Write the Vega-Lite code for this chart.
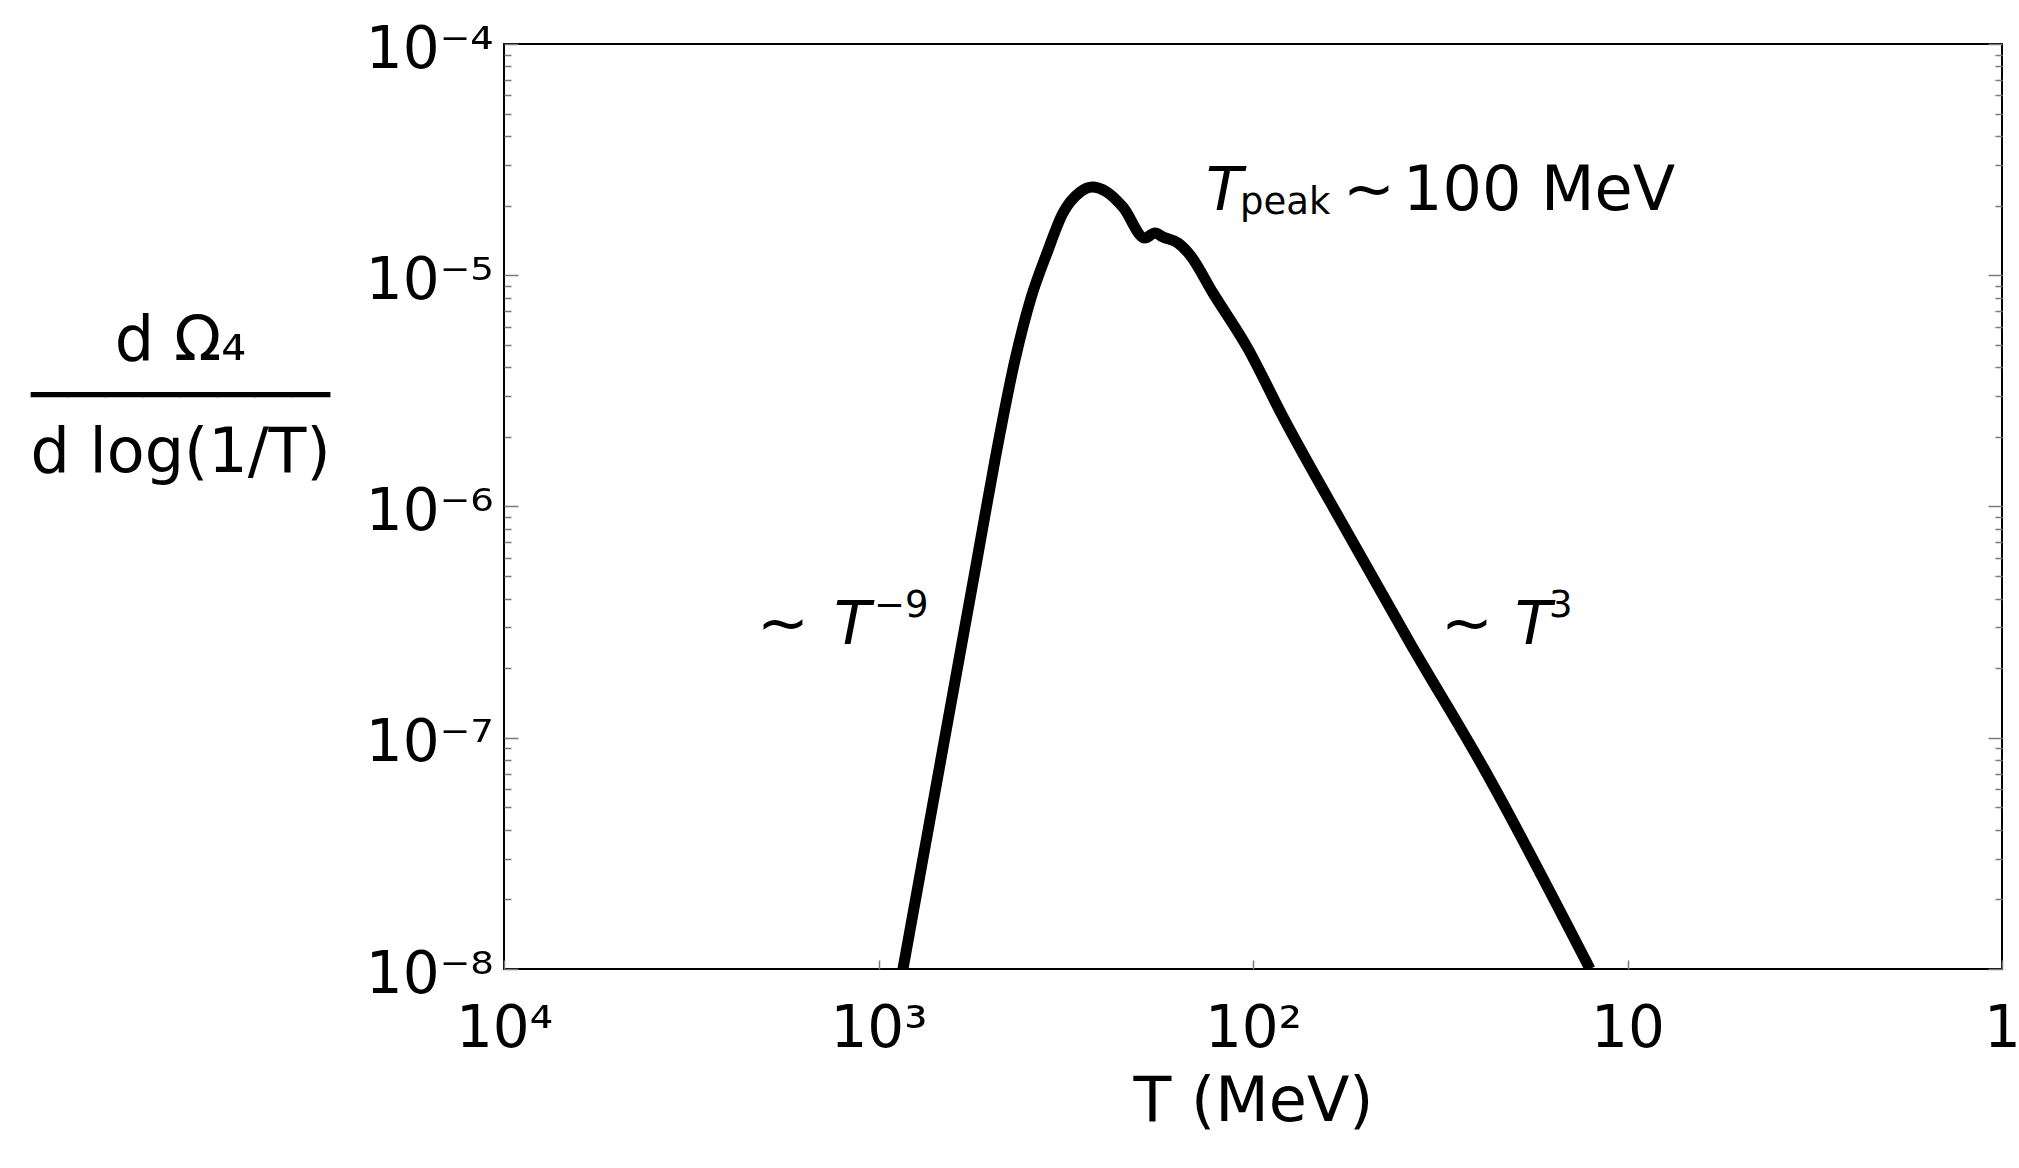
{
  "$schema": "https://vega.github.io/schema/vega-lite/v6.json",
  "width": 1498,
  "height": 925,
  "autosize": {"type": "none"},
  "padding": {"left": 504, "top": 44, "right": 17, "bottom": 199},
  "background": "white",
  "config": {
    "view": {"stroke": "black", "strokeWidth": 2},
    "font": "DejaVu Sans",
    "axis": {
      "grid": false,
      "domain": false,
      "labelFont": "DejaVu Sans",
      "titleFont": "DejaVu Sans",
      "labelColor": "black",
      "titleColor": "black",
      "titleFontWeight": "normal",
      "tickColor": "#7a7a7a",
      "tickWidth": 1.5,
      "labelFlush": false,
      "labelOverlap": false,
      "labelBound": false
    }
  },
  "datasets": {
    "curve": [
      {"T": 860.4, "v": 1.0e-8},
      {"T": 545.8, "v": 5.87e-7},
      {"T": 488.6, "v": 1.59e-6},
      {"T": 432.1, "v": 4.30e-6},
      {"T": 391.5, "v": 7.98e-6},
      {"T": 354.9, "v": 1.248e-5},
      {"T": 321.7, "v": 1.858e-5},
      {"T": 289.6, "v": 2.29e-5},
      {"T": 269.1, "v": 2.41e-5},
      {"T": 245.4, "v": 2.29e-5},
      {"T": 222.4, "v": 1.97e-5},
      {"T": 194.3, "v": 1.449e-5},
      {"T": 182.7, "v": 1.523e-5},
      {"T": 173.9, "v": 1.463e-5},
      {"T": 158.6, "v": 1.378e-5},
      {"T": 147.3, "v": 1.224e-5},
      {"T": 127.9, "v": 8.38e-6},
      {"T": 103.7, "v": 4.89e-6},
      {"T": 83.17, "v": 2.44e-6},
      {"T": 55.08, "v": 7.38e-7},
      {"T": 38.08, "v": 2.57e-7},
      {"T": 24.31, "v": 7.47e-8},
      {"T": 12.59, "v": 1.0e-8}
    ],
    "notes": [
      {"T": 133.5, "v": 1.915e-5, "text": "T", "kind": "italic"},
      {"T": 1315, "v": 2.543e-7, "text": "T", "kind": "italic"},
      {"T": 19.97, "v": 2.543e-7, "text": "T", "kind": "italic"},
      {"T": 57.5, "v": 1.915e-5, "text": "∼", "kind": "normal"},
      {"T": 39.76, "v": 1.915e-5, "text": "100 MeV", "kind": "normal"},
      {"T": 2110, "v": 2.543e-7, "text": "∼", "kind": "normal"},
      {"T": 31.48, "v": 2.543e-7, "text": "∼", "kind": "normal"},
      {"T": 108.3, "v": 1.84e-5, "text": "peak", "kind": "small"},
      {"T": 1028, "v": 3.327e-7, "text": "−9", "kind": "small"},
      {"T": 16.2, "v": 3.327e-7, "text": "3", "kind": "small"}
    ]
  },
  "resolve": {"axis": {"y": "independent"}},
  "encoding": {
    "x": {
      "field": "T", "type": "quantitative",
      "scale": {"type": "log", "domain": [1, 10000], "reverse": true, "nice": false},
      "axis": {
        "orient": "bottom",
        "values": [1, 10, 100, 1000, 10000],
        "tickSize": -9,
        "labelPadding": 40,
        "labelBaseline": "top",
        "labelAlign": "center",
        "labelFontSize": 58,
        "labelExpr": "['1','10','10²','10³','10⁴'][round(log(datum.value)/LN10)]",
        "title": "T (MeV)",
        "titleFontSize": 62,
        "titleX": 749,
        "titleY": 132,
        "titleAlign": "center",
        "titleBaseline": "middle"
      }
    }
  },
  "layer": [
    {
      "data": {"name": "curve"},
      "mark": {"type": "line", "color": "black", "strokeWidth": 11, "clip": true, "strokeJoin": "round", "interpolate": "monotone"},
      "encoding": {
        "y": {
          "field": "v", "type": "quantitative",
          "scale": {"type": "log", "domain": [1e-8, 1e-4], "nice": false},
          "axis": {
            "orient": "left",
            "values": [1e-8, 1e-7, 1e-6, 1e-5, 1e-4],
            "tickSize": -14,
            "labelPadding": 25,
            "labelAlign": "right",
            "labelBaseline": "middle",
            "labelOffset": 6,
            "labelFontSize": 58,
            "labelExpr": "'10' + ['⁻⁸','⁻⁷','⁻⁶','⁻⁵','⁻⁴'][round(log(datum.value)/LN10) + 8]",
            "title": ["d Ω₄", "────────", "d log(1/T)"],
            "titleAngle": 0,
            "titleX": -324,
            "titleY": 296,
            "titleAlign": "center",
            "titleBaseline": "middle",
            "titleFontSize": 62,
            "titleLineHeight": 56
          }
        }
      }
    },
    {
      "data": {"name": "notes"},
      "transform": [{"filter": "datum.kind === 'italic'"}],
      "mark": {"type": "text", "font": "DejaVu Sans", "fontStyle": "italic", "fontSize": 60, "align": "left", "baseline": "alphabetic", "color": "black"},
      "encoding": {
        "y": {
          "field": "v", "type": "quantitative",
          "scale": {"type": "log", "domain": [1e-8, 1e-4], "nice": false},
          "axis": {"orient": "right", "values": [1e-8, 1e-7, 1e-6, 1e-5, 1e-4], "tickSize": -14, "labels": false, "title": null}
        },
        "text": {"field": "text"}
      }
    },
    {
      "data": {"name": "notes"},
      "transform": [{"filter": "datum.kind === 'normal'"}],
      "mark": {"type": "text", "font": "DejaVu Sans", "fontSize": 62, "align": "left", "baseline": "alphabetic", "color": "black"},
      "encoding": {
        "y": {
          "field": "v", "type": "quantitative",
          "scale": {"type": "log", "domain": [1e-8, 1e-4], "nice": false},
          "axis": {"orient": "left", "values": [2e-8, 3e-8, 4e-8, 5e-8, 6e-8, 7e-8, 8e-8, 9e-8, 2e-7, 3e-7, 4e-7, 5e-7, 6e-7, 7e-7, 8e-7, 9e-7, 2e-6, 3e-6, 4e-6, 5e-6, 6e-6, 7e-6, 8e-6, 9e-6, 2e-5, 3e-5, 4e-5, 5e-5, 6e-5, 7e-5, 8e-5, 9e-5], "tickSize": -7, "labels": false, "title": null}
        },
        "text": {"field": "text"}
      }
    },
    {
      "data": {"name": "notes"},
      "transform": [{"filter": "datum.kind === 'small'"}],
      "mark": {"type": "text", "font": "DejaVu Sans", "fontSize": 37, "align": "left", "baseline": "alphabetic", "color": "black"},
      "encoding": {
        "y": {
          "field": "v", "type": "quantitative",
          "scale": {"type": "log", "domain": [1e-8, 1e-4], "nice": false},
          "axis": {"orient": "right", "values": [2e-8, 3e-8, 4e-8, 5e-8, 6e-8, 7e-8, 8e-8, 9e-8, 2e-7, 3e-7, 4e-7, 5e-7, 6e-7, 7e-7, 8e-7, 9e-7, 2e-6, 3e-6, 4e-6, 5e-6, 6e-6, 7e-6, 8e-6, 9e-6, 2e-5, 3e-5, 4e-5, 5e-5, 6e-5, 7e-5, 8e-5, 9e-5], "tickSize": -7, "labels": false, "title": null}
        },
        "text": {"field": "text"}
      }
    }
  ]
}
